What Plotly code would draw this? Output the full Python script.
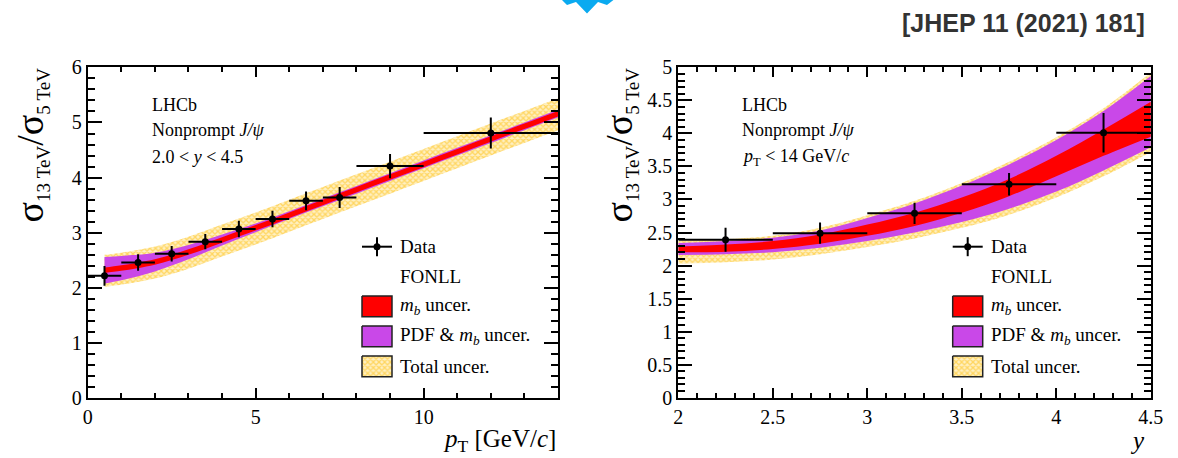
import plotly.graph_objects as go

W, H = 1178, 458

# ---------------- data: ratio vs pT (2.0 < y < 4.5) ----------------
pt_centers = [0.5, 1.5, 2.5, 3.5, 4.5, 5.5, 6.5, 7.5, 9.0, 12.0]
pt_halfwidth = [0.5, 0.5, 0.5, 0.5, 0.5, 0.5, 0.5, 0.5, 1.0, 2.0]
pt_ratio = [2.22, 2.46, 2.62, 2.84, 3.07, 3.25, 3.58, 3.64, 4.21, 4.81]
pt_ratio_err = [0.18, 0.15, 0.14, 0.14, 0.15, 0.15, 0.17, 0.19, 0.22, 0.28]

# FONLL bands vs pT
pt_nodes = [0.5, 1, 2, 3, 4, 5, 6, 7, 8, 9, 10, 11, 12, 13, 14]
pt_mb_lo = [2.27, 2.31, 2.42, 2.60, 2.82, 3.04, 3.27, 3.50, 3.73, 3.96, 4.19, 4.42, 4.65, 4.88, 5.11]
pt_mb_hi = [2.37, 2.41, 2.52, 2.70, 2.92, 3.14, 3.37, 3.60, 3.83, 4.06, 4.29, 4.52, 4.75, 4.98, 5.21]
pt_pdf_lo = [2.08, 2.14, 2.30, 2.52, 2.77, 3.01, 3.25, 3.48, 3.71, 3.94, 4.17, 4.40, 4.63, 4.86, 5.09]
pt_pdf_hi = [2.56, 2.58, 2.64, 2.78, 2.97, 3.17, 3.39, 3.62, 3.85, 4.08, 4.31, 4.54, 4.77, 5.00, 5.23]
pt_tot_lo = [2.02, 2.06, 2.17, 2.35, 2.57, 2.79, 3.02, 3.25, 3.48, 3.71, 3.94, 4.17, 4.40, 4.63, 4.86]
pt_tot_hi = [2.60, 2.64, 2.75, 2.93, 3.15, 3.37, 3.60, 3.83, 4.06, 4.29, 4.52, 4.75, 4.98, 5.21, 5.44]

# ---------------- data: ratio vs y (pT < 14 GeV/c) ----------------
y_centers = [2.25, 2.75, 3.25, 3.75, 4.25]
y_halfwidth = [0.25, 0.25, 0.25, 0.25, 0.25]
y_ratio = [2.39, 2.49, 2.79, 3.23, 4.01]
y_ratio_err = [0.18, 0.16, 0.16, 0.17, 0.30]

# FONLL bands vs y
y_nodes = [2.0, 2.25, 2.5, 2.75, 3.0, 3.25, 3.5, 3.75, 4.0, 4.25, 4.5]
y_mb_lo = [2.20, 2.21, 2.25, 2.33, 2.45, 2.60, 2.80, 3.05, 3.35, 3.66, 3.95]
y_mb_hi = [2.29, 2.32, 2.37, 2.47, 2.62, 2.80, 3.03, 3.31, 3.66, 4.06, 4.48]
y_pdf_lo = [2.16, 2.17, 2.20, 2.27, 2.37, 2.50, 2.66, 2.86, 3.12, 3.44, 3.79]
y_pdf_hi = [2.34, 2.37, 2.42, 2.53, 2.72, 2.94, 3.21, 3.53, 3.90, 4.34, 4.87]
y_tot_lo = [2.03, 2.05, 2.09, 2.17, 2.28, 2.41, 2.57, 2.77, 3.03, 3.35, 3.72]
y_tot_hi = [2.37, 2.40, 2.45, 2.57, 2.76, 2.98, 3.25, 3.57, 3.94, 4.38, 4.92]

RED = "#FF0000"
MAGENTA = "#C948E8"
HATCH_FG = "#FFBB00"
HATCH_BG = "#FFF0C2"
SERIF = "Liberation Serif"

fig = go.Figure()


def add_band(x, lo, hi, xa, ya, color=None, pattern=None):
    fig.add_trace(go.Scatter(x=x, y=lo, mode="lines", line=dict(width=0, shape="spline"),
                             xaxis=xa, yaxis=ya, showlegend=False, hoverinfo="skip"))
    kw = dict(fillcolor=color) if color else dict(fillcolor=HATCH_BG, fillpattern=pattern)
    fig.add_trace(go.Scatter(x=x, y=hi, mode="lines", line=dict(width=0, shape="spline"),
                             fill="tonexty", xaxis=xa, yaxis=ya, showlegend=False,
                             hoverinfo="skip", **kw))


hatch = dict(shape="x", fgcolor=HATCH_FG, bgcolor=HATCH_BG, size=4, solidity=0.55)

# left panel bands
add_band(pt_nodes, pt_tot_lo, pt_tot_hi, "x", "y", pattern=hatch)
add_band(pt_nodes, pt_pdf_lo, pt_pdf_hi, "x", "y", color=MAGENTA)
add_band(pt_nodes, pt_mb_lo, pt_mb_hi, "x", "y", color=RED)
# right panel bands
add_band(y_nodes, y_tot_lo, y_tot_hi, "x2", "y2", pattern=hatch)
add_band(y_nodes, y_pdf_lo, y_pdf_hi, "x2", "y2", color=MAGENTA)
add_band(y_nodes, y_mb_lo, y_mb_hi, "x2", "y2", color=RED)


def add_data(x, y, ex, ey, xa, ya):
    fig.add_trace(go.Scatter(
        x=x, y=y, mode="markers", xaxis=xa, yaxis=ya, showlegend=False,
        marker=dict(color="black", size=7, symbol="circle"),
        error_x=dict(type="data", array=ex, color="black", thickness=2, width=0),
        error_y=dict(type="data", array=ey, color="black", thickness=2, width=0),
    ))


add_data(pt_centers, pt_ratio, pt_halfwidth, pt_ratio_err, "x", "y")
add_data(y_centers, y_ratio, y_halfwidth, y_ratio_err, "x2", "y2")

# ---------------- legends (pixel overlay axis x3/y3) ----------------
def legend(x0):
    # Data entry: point with error cross
    fig.add_trace(go.Scatter(
        x=[x0 + 15], y=[246.7], mode="markers", xaxis="x3", yaxis="y3", showlegend=False,
        marker=dict(color="black", size=7),
        error_x=dict(type="constant", value=15, color="black", thickness=2, width=0),
        error_y=dict(type="constant", value=9.5, color="black", thickness=2, width=0),
    ))
    boxes = [(296.0, RED, None), (326.0, MAGENTA, None), (356.0, None, hatch)]
    for top, col, pat in boxes:
        bx = [x0, x0 + 30, x0 + 30, x0, x0]
        by = [top, top, top + 20.7, top + 20.7, top]
        kw = dict(fillcolor=col) if col else dict(fillcolor=HATCH_BG, fillpattern=pat)
        fig.add_trace(go.Scatter(x=bx, y=by, mode="lines", fill="toself",
                                 line=dict(color="#222222", width=1.5),
                                 xaxis="x3", yaxis="y3", showlegend=False,
                                 hoverinfo="skip", **kw))
    labels = [(246.7, "Data"), (276.7, "FONLL"),
              (306.3, "<i>m</i><sub><i>b</i></sub> uncer."),
              (336.3, "PDF &amp; <i>m</i><sub><i>b</i></sub> uncer."),
              (366.3, "Total uncer.")]
    for yy, txt in labels:
        fig.add_annotation(x=x0 + 36, y=yy, xref="x3", yref="y3", text=txt,
                           showarrow=False, xanchor="left", yanchor="middle",
                           font=dict(family=SERIF, size=19, color="black"))


legend(362.0)
legend(952.7)


def label_block(x0, lines):
    for yy, txt in zip([104.5, 129.5, 157.0], lines):
        fig.add_annotation(x=x0, y=yy, xref="x3", yref="y3", text=txt, showarrow=False,
                           xanchor="left", yanchor="middle",
                           font=dict(family=SERIF, size=18, color="black"))


label_block(150, ["LHCb", "Nonprompt <i>J/ψ</i>", "2.0 &lt; <i>y</i> &lt; 4.5"])
label_block(740, ["LHCb", "Nonprompt <i>J/ψ</i>",
                  "<i>p</i><sub>T</sub> &lt; 14 GeV/<i>c</i>"])

ytitle = ('σ<sub><span style="font-size:19px">13 TeV</span></sub>/'
          'σ<sub><span style="font-size:19px">5 TeV</span></sub>')
for xc in (31, 620):
    fig.add_annotation(x=xc, y=66, xref="x3", yref="y3", text=ytitle, showarrow=False,
                       textangle=-90, xanchor="center", yanchor="top",
                       font=dict(family=SERIF, size=38, color="black"))

fig.add_annotation(x=558, y=440, xref="x3", yref="y3",
                   text="<i>p</i><sub>T</sub> [GeV/<i>c</i>]", showarrow=False,
                   xanchor="right", yanchor="middle",
                   font=dict(family=SERIF, size=25, color="black"))
fig.add_annotation(x=1147, y=440, xref="x3", yref="y3", text="<i>y</i>", showarrow=False,
                   xanchor="right", yanchor="middle",
                   font=dict(family=SERIF, size=25, color="black"))

fig.add_annotation(x=1147, y=23, xref="x3", yref="y3", text="<b>[JHEP 11 (2021) 181]</b>",
                   showarrow=False, xanchor="right", yanchor="middle",
                   font=dict(family="Liberation Sans", size=25, color="#333333"))

# badge fragment at the top edge
fig.add_shape(type="path", xref="x3", yref="y3",
              path="M 560 -2 L 567 5 L 576 2 L 587 13.5 L 598 2 L 607 5 L 616 -2 Z",
              fillcolor="#0AAAF0", line=dict(width=0))

# ---------------- axes ----------------
def axis(domain, rng, dtick, ticklen, mdtick, mticklen, anchor, labels=True):
    return dict(domain=domain, range=rng, anchor=anchor, showline=True, linecolor="black",
                linewidth=2, mirror="allticks", ticks="inside", ticklen=ticklen,
                tickwidth=2, tickcolor="black", dtick=dtick, tick0=0, showgrid=False,
                zeroline=False, showticklabels=labels, automargin=False,
                tickfont=dict(family=SERIF, size=20, color="black"),
                minor=dict(ticks="inside", ticklen=mticklen, tickwidth=1.5,
                           tickcolor="black", dtick=mdtick, showgrid=False))


fig.update_layout(
    width=W, height=H, margin=dict(l=0, r=0, t=0, b=0),
    paper_bgcolor="white", plot_bgcolor="rgba(0,0,0,0)", showlegend=False,
    xaxis=axis([87.7 / W, 558.0 / W], [0, 14], 5, 10, 1, 5, "y"),
    yaxis=axis([1 - 398.3 / H, 1 - 67.3 / H], [0, 6], 1, 14, 0.2, 7, "x"),
    xaxis2=axis([678.3 / W, 1150.8 / W], [2, 4.5], 0.5, 10, 0.1, 5, "y2"),
    yaxis2=axis([1 - 397.7 / H, 1 - 67.3 / H], [0, 5], 0.5, 14, 0.1, 7, "x2"),
    xaxis3=dict(domain=[0, 1], range=[0, W], visible=False, anchor="y3", fixedrange=True),
    yaxis3=dict(domain=[0, 1], range=[H, 0], visible=False, anchor="x3", fixedrange=True),
)

fig.write_html("out.html")
